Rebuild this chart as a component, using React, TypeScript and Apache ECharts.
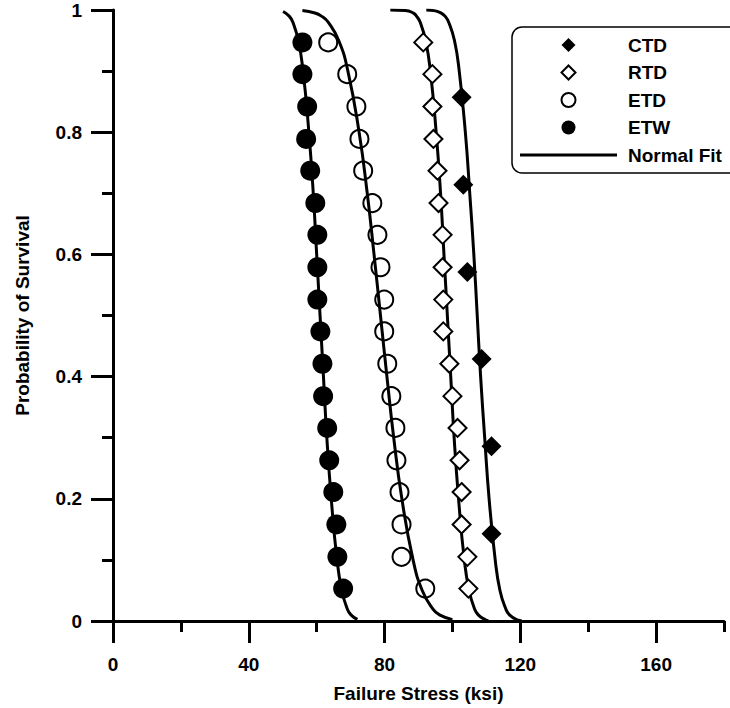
import React, { useEffect, useRef } from "react";
import * as echarts from "echarts";

// Probability-of-survival levels
const pSurv18 = [0.947, 0.895, 0.842, 0.789, 0.737, 0.684, 0.632, 0.579, 0.526, 0.474, 0.421, 0.368, 0.316, 0.263, 0.211, 0.158, 0.105, 0.053];
const pSurv6 = [0.857, 0.714, 0.571, 0.429, 0.286, 0.143];

// Failure stress (ksi) for each data set
const ctdStress = [102.7, 103.2, 104.4, 108.6, 111.5, 111.5];
const rtdStress = [91.4, 94.1, 94.1, 94.4, 95.6, 95.9, 97.1, 97.1, 97.3, 97.3, 99.1, 100.0, 101.5, 102.1, 102.7, 102.7, 104.4, 104.7];
const etdStress = [63.4, 69.0, 71.7, 72.6, 73.7, 76.4, 77.9, 78.8, 79.9, 79.9, 80.8, 82.0, 83.2, 83.5, 84.4, 85.0, 85.0, 92.0];
const etwStress = [55.8, 55.8, 57.2, 56.9, 58.1, 59.6, 60.2, 60.2, 60.2, 61.1, 61.7, 61.9, 63.1, 63.7, 64.9, 65.8, 66.1, 67.8];

// Normal fit curves: [stress, probability]
const fitETW = [[50.1, 0.9975], [51.9, 0.99], [53.0, 0.98], [54.6, 0.95], [56.0, 0.9], [57.7, 0.8], [59.0, 0.7], [60.0, 0.6], [61.0, 0.5], [62.0, 0.4], [63.0, 0.3], [64.3, 0.2], [66.0, 0.1], [67.4, 0.05], [69.0, 0.02], [70.1, 0.01], [72.0, 0.0025]];
const fitETD = [[55.8, 0.999], [59.5, 0.995], [61.4, 0.99], [63.4, 0.98], [66.5, 0.95], [69.2, 0.9], [72.5, 0.8], [74.9, 0.7], [76.9, 0.6], [78.8, 0.5], [80.7, 0.4], [82.7, 0.3], [85.1, 0.2], [88.4, 0.1], [91.1, 0.05], [94.2, 0.02], [96.2, 0.01], [100.0, 0.0023]];
const fitRTD = [[81.7, 1.0], [86.1, 0.9993], [88.5, 0.995], [89.4, 0.99], [90.5, 0.98], [92.1, 0.95], [93.5, 0.9], [95.2, 0.8], [96.5, 0.7], [97.5, 0.6], [98.5, 0.5], [99.5, 0.4], [100.5, 0.3], [101.8, 0.2], [103.5, 0.1], [104.9, 0.05], [106.5, 0.02], [107.6, 0.01], [109.7, 0.002], [110.6, 0.0007]];
const fitCTD = [[92.3, 0.9999], [94.6, 0.999], [96.7, 0.995], [97.8, 0.99], [98.9, 0.98], [100.6, 0.95], [102.0, 0.9], [103.8, 0.8], [105.1, 0.7], [106.3, 0.6], [107.3, 0.5], [108.3, 0.4], [109.5, 0.3], [110.8, 0.2], [112.6, 0.1], [114.0, 0.05], [115.7, 0.02], [116.8, 0.01], [119.1, 0.002], [120.4, 0.0005]];

const xMajorTicks = [0, 40, 80, 120, 160];
const xMinorTicks = [20, 60, 100, 140, 180];

const FONT = "Arial, 'Liberation Sans', sans-serif";

const DIAMOND = "path://M0,-1L1,0L0,1L-1,0Z";
const CIRCLE = "path://M-1,0A1,1,0,1,0,1,0A1,1,0,1,0,-1,0Z";
const BAR = "path://M0,0H97V3H0Z";

const pair = (xs: number[], ys: number[]) => xs.map((x, i) => [x, ys[i]]);

export default function App() {
  const ref = useRef<HTMLDivElement>(null);
  useEffect(() => {
    document.body.style.margin = "0";
    if (!ref.current) return;
    const chart = echarts.init(ref.current, undefined, { renderer: "svg" });
    const fitLine = (data: number[][]) => ({
      type: "line",
      name: "Normal Fit",
      data,
      smooth: true,
      showSymbol: false,
      symbol: "none",
      lineStyle: { color: "#000", width: 3 },
      itemStyle: { color: "#000" },
      z: 2,
    });
    chart.setOption({
      animation: false,
      backgroundColor: "#fff",
      textStyle: { fontFamily: FONT },
      grid: { left: 113, right: 6, top: 10, bottom: 86, containLabel: false },
      graphic: [
        {
          type: "rect",
          shape: { x: 512, y: 27, width: 260, height: 146, r: 10 },
          style: { fill: "#fff", stroke: "#000", lineWidth: 1.5 },
          z: 3,
          silent: true,
        },
      ],
      legend: {
        orient: "vertical",
        left: 512,
        top: 27,
        itemWidth: 97,
        itemHeight: 14,
        itemGap: 7.5,
        padding: [8, 8, 8, 8],
        borderWidth: 0,
        backgroundColor: "transparent",
        symbolKeepAspect: true,
        z: 6,
        textStyle: { fontFamily: FONT, fontSize: 19, fontWeight: "bold", color: "#000", lineHeight: 20, padding: [0, 0, 0, 6] },
        data: [
          { name: "CTD", icon: DIAMOND },
          { name: "RTD", icon: DIAMOND, itemStyle: { borderWidth: 2 } },
          { name: "ETD", icon: CIRCLE, itemStyle: { borderWidth: 2 } },
          { name: "ETW", icon: CIRCLE },
          { name: "Normal Fit", icon: BAR },
        ],
      },
      xAxis: [
        {
          type: "value",
          min: 0,
          max: 180,
          interval: 20,
          name: "Failure Stress (ksi)",
          nameLocation: "middle",
          nameGap: 63,
          nameTextStyle: { fontFamily: FONT, fontSize: 19, fontWeight: "bold", color: "#000" },
          axisLine: { show: true, onZero: false, lineStyle: { color: "#000", width: 3 } },
          axisTick: { show: true, customValues: xMajorTicks, length: 22, inside: false, lineStyle: { color: "#000", width: 3 } },
          axisLabel: { show: true, customValues: xMajorTicks, margin: 34, fontFamily: FONT, fontSize: 19, fontWeight: "bold", color: "#000" },
          splitLine: { show: false },
        },
        {
          type: "value",
          gridIndex: 0,
          position: "bottom",
          offset: 0,
          min: 0,
          max: 180,
          interval: 20,
          axisLine: { show: false },
          axisTick: { show: true, customValues: xMinorTicks, length: 11, inside: false, lineStyle: { color: "#000", width: 3 } },
          axisLabel: { show: false },
          splitLine: { show: false },
        },
      ],
      yAxis: {
        type: "value",
        min: 0,
        max: 1,
        interval: 0.2,
        name: "Probability of Survival",
        nameLocation: "middle",
        nameGap: 81,
        nameRotate: 90,
        nameTextStyle: { fontFamily: FONT, fontSize: 19, fontWeight: "bold", color: "#000" },
        axisLine: { show: true, onZero: false, lineStyle: { color: "#000", width: 3 } },
        axisTick: { show: true, length: 22, inside: false, lineStyle: { color: "#000", width: 3 } },
        minorTick: { show: true, splitNumber: 2, length: 11, lineStyle: { color: "#000", width: 3 } },
        axisLabel: { margin: 31, fontFamily: FONT, fontSize: 19, fontWeight: "bold", color: "#000" },
        splitLine: { show: false },
        minorSplitLine: { show: false },
      },
      series: [
        fitLine(fitETW),
        fitLine(fitETD),
        fitLine(fitRTD),
        fitLine(fitCTD),
        {
          type: "scatter",
          name: "CTD",
          data: pair(ctdStress, pSurv6),
          symbol: "diamond",
          symbolSize: 20,
          itemStyle: { color: "#000", borderWidth: 0, opacity: 1 },
          z: 5,
        },
        {
          type: "scatter",
          name: "RTD",
          data: pair(rtdStress, pSurv18),
          symbol: "diamond",
          symbolSize: 18,
          itemStyle: { color: "#fff", borderColor: "#000", borderWidth: 2, opacity: 1 },
          z: 5,
        },
        {
          type: "scatter",
          name: "ETD",
          data: pair(etdStress, pSurv18),
          symbol: "circle",
          symbolSize: 18,
          itemStyle: { color: "rgba(255,255,255,0)", borderColor: "#000", borderWidth: 2, opacity: 1 },
          z: 5,
        },
        {
          type: "scatter",
          name: "ETW",
          data: pair(etwStress, pSurv18),
          symbol: "circle",
          symbolSize: 20,
          itemStyle: { color: "#000", borderWidth: 0, opacity: 1 },
          z: 5,
        },
      ],
    });
    return () => chart.dispose();
  }, []);
  return <div ref={ref} style={{ width: 730, height: 708 }} />;
}
